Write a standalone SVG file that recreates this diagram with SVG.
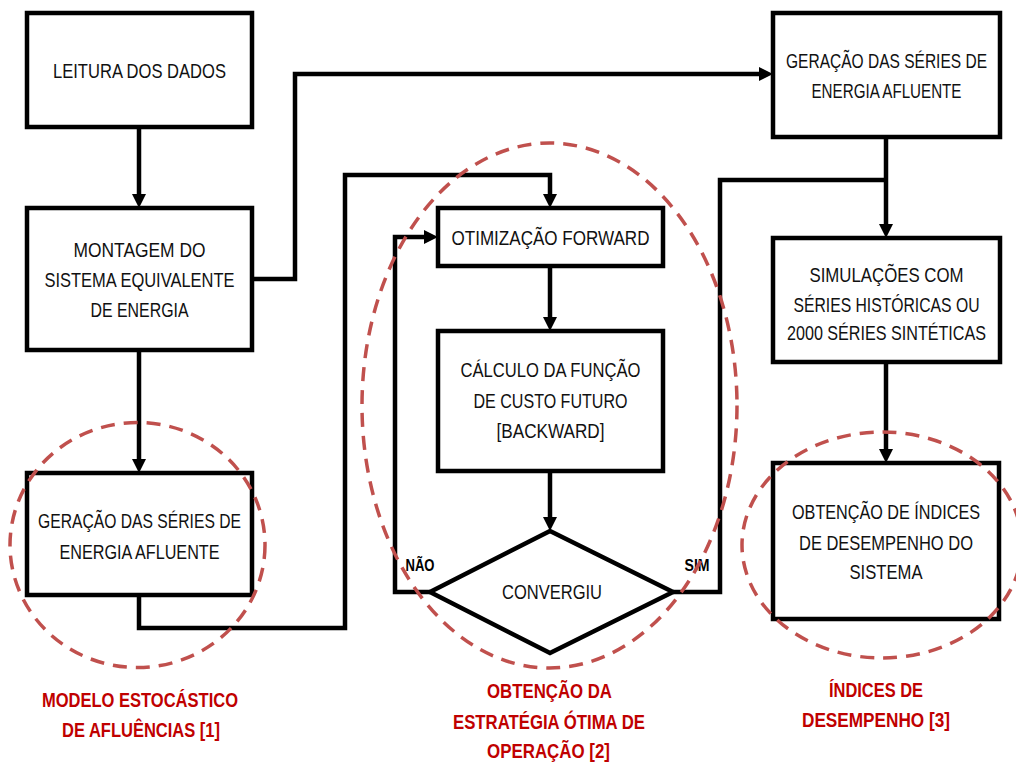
<svg xmlns="http://www.w3.org/2000/svg" width="1016" height="764" viewBox="0 0 1016 764">
  <style>
    .box { fill: #ffffff; stroke: #000000; stroke-width: 4.5; }
    .lbl { font-family: "Liberation Sans", Arial, sans-serif; font-size: 21px; fill: #111111; text-anchor: middle; }
    .cap { font-family: "Liberation Sans", Arial, sans-serif; font-size: 21px; font-weight: bold; fill: #c00000; text-anchor: middle; }
    .tag { font-family: "Liberation Sans", Arial, sans-serif; font-size: 16px; font-weight: bold; fill: #000000; text-anchor: middle; }
    .wire { fill: none; stroke: #000000; stroke-width: 4.5; stroke-linejoin: miter; }
    .arrow { marker-end: url(#head); }
    .zone { fill: none; stroke: #c0504d; stroke-width: 3.5; stroke-dasharray: 14 9; }
  </style>
  <defs>
    <marker id="head" markerUnits="userSpaceOnUse" markerWidth="14" markerHeight="14" refX="2" refY="7" orient="auto">
      <path d="M0,0 L14,7 L0,14 z" fill="#000000"/>
    </marker>
  </defs>

  <g id="connectors">
    <path class="wire arrow" d="M139,127 V196"/>
    <path class="wire arrow" d="M252,279 H295 V74 H761"/>
    <path class="wire arrow" d="M139,350 V461"/>
    <path class="wire arrow" d="M139,595 V628 H345 V175 H550 V196"/>
    <path class="wire arrow" d="M550,266 V319"/>
    <path class="wire arrow" d="M550,471 V519"/>
    <path class="wire arrow" d="M430,592 H395 V237 H426"/>
    <path class="wire" d="M673,592 H720 V180 H886"/>
    <path class="wire arrow" d="M886,137 V226"/>
    <path class="wire arrow" d="M886,362 V451"/>
  </g>

  <g id="leitura">
    <rect class="box" x="27" y="13" width="225" height="114"/>
    <text class="lbl" x="139.5" y="78" textLength="173" lengthAdjust="spacingAndGlyphs">LEITURA DOS DADOS</text>
  </g>

  <g id="montagem">
    <rect class="box" x="27" y="208" width="225" height="142"/>
    <text class="lbl" x="139.5" y="257" textLength="132" lengthAdjust="spacingAndGlyphs">MONTAGEM DO</text>
    <text class="lbl" x="139.5" y="287" textLength="190" lengthAdjust="spacingAndGlyphs">SISTEMA EQUIVALENTE</text>
    <text class="lbl" x="139.5" y="317" textLength="98" lengthAdjust="spacingAndGlyphs">DE ENERGIA</text>
  </g>

  <g id="geracao-esq">
    <rect class="box" x="27" y="473" width="225" height="122"/>
    <text class="lbl" x="139.5" y="528" textLength="203" lengthAdjust="spacingAndGlyphs">GERAÇÃO DAS SÉRIES DE</text>
    <text class="lbl" x="139.5" y="559" textLength="160" lengthAdjust="spacingAndGlyphs">ENERGIA AFLUENTE</text>
  </g>

  <g id="otimizacao">
    <rect class="box" x="438" y="208" width="225" height="58"/>
    <text class="lbl" x="550.5" y="245" textLength="198" lengthAdjust="spacingAndGlyphs">OTIMIZAÇÃO FORWARD</text>
  </g>

  <g id="calculo">
    <rect class="box" x="438" y="331" width="225" height="140"/>
    <text class="lbl" x="550.5" y="377" textLength="180" lengthAdjust="spacingAndGlyphs">CÁLCULO DA FUNÇÃO</text>
    <text class="lbl" x="550.5" y="408" textLength="154" lengthAdjust="spacingAndGlyphs">DE CUSTO FUTURO</text>
    <text class="lbl" x="550.5" y="438" textLength="108" lengthAdjust="spacingAndGlyphs">[BACKWARD]</text>
  </g>

  <g id="convergiu">
    <polygon class="box" points="550,531 673,592 550,653 430,592"/>
    <text class="lbl" x="552" y="599" textLength="100" lengthAdjust="spacingAndGlyphs">CONVERGIU</text>
    <text class="tag" x="420" y="571" textLength="29" lengthAdjust="spacingAndGlyphs">NÃO</text>
    <text class="tag" x="697" y="571" textLength="25" lengthAdjust="spacingAndGlyphs">SIM</text>
  </g>

  <!-- right column labels are horizontally condensed so they stay inside the canvas -->
  <g id="geracao-dir">
    <rect class="box" x="773" y="13" width="227" height="124"/>
    <g transform="scale(0.82 1)">
      <text class="lbl" x="1081.1" y="68" textLength="245.1" lengthAdjust="spacingAndGlyphs">GERAÇÃO DAS SÉRIES DE</text>
      <text class="lbl" x="1081.1" y="98" textLength="182.9" lengthAdjust="spacingAndGlyphs">ENERGIA AFLUENTE</text>
    </g>
  </g>

  <g id="simulacoes">
    <rect class="box" x="773" y="238" width="227" height="124"/>
    <g transform="scale(0.82 1)">
      <text class="lbl" x="1081.1" y="282" textLength="187.8" lengthAdjust="spacingAndGlyphs">SIMULAÇÕES COM</text>
      <text class="lbl" x="1081.1" y="312" textLength="226.8" lengthAdjust="spacingAndGlyphs">SÉRIES HISTÓRICAS OU</text>
      <text class="lbl" x="1081.1" y="340" textLength="242.7" lengthAdjust="spacingAndGlyphs">2000 SÉRIES SINTÉTICAS</text>
    </g>
  </g>

  <g id="indices">
    <rect class="box" x="773" y="463" width="226" height="156"/>
    <g transform="scale(0.82 1)">
      <text class="lbl" x="1080.5" y="519" textLength="229.3" lengthAdjust="spacingAndGlyphs">OBTENÇÃO DE ÍNDICES</text>
      <text class="lbl" x="1080.5" y="550" textLength="212.2" lengthAdjust="spacingAndGlyphs">DE DESEMPENHO DO</text>
      <text class="lbl" x="1080.5" y="579" textLength="89" lengthAdjust="spacingAndGlyphs">SISTEMA</text>
    </g>
  </g>

  <g id="zona-modelo">
    <ellipse class="zone" cx="137.5" cy="545" rx="127.5" ry="122.5"/>
    <text class="cap" x="140" y="707" textLength="196" lengthAdjust="spacingAndGlyphs">MODELO ESTOCÁSTICO</text>
    <text class="cap" x="141" y="737" textLength="158" lengthAdjust="spacingAndGlyphs">DE AFLUÊNCIAS [1]</text>
  </g>

  <g id="zona-estrategia">
    <ellipse class="zone" cx="549.5" cy="405.5" rx="187.5" ry="262.5"/>
    <text class="cap" x="549.5" y="698" textLength="125" lengthAdjust="spacingAndGlyphs">OBTENÇÃO DA</text>
    <text class="cap" x="549" y="729" textLength="192" lengthAdjust="spacingAndGlyphs">ESTRATÉGIA ÓTIMA DE</text>
    <text class="cap" x="548.5" y="758" textLength="123" lengthAdjust="spacingAndGlyphs">OPERAÇÃO [2]</text>
  </g>

  <g id="zona-indices">
    <ellipse class="zone" cx="882" cy="545" rx="140" ry="113"/>
    <text class="cap" x="876" y="697" textLength="94" lengthAdjust="spacingAndGlyphs">ÍNDICES DE</text>
    <text class="cap" x="876" y="727" textLength="148" lengthAdjust="spacingAndGlyphs">DESEMPENHO [3]</text>
  </g>
</svg>
